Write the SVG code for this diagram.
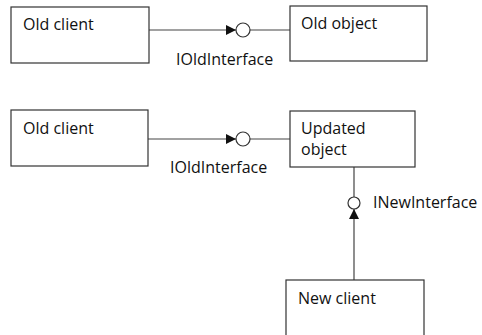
<svg xmlns="http://www.w3.org/2000/svg" width="482" height="335" viewBox="0 0 482 335">
<style>
.box{fill:#fff;stroke:#333;stroke-width:1.2}
.ln{fill:none;stroke:#444;stroke-width:1.2}
.lol{fill:#fff;stroke:#333;stroke-width:1.2}
text{font-family:"Open Sans","DejaVu Sans",sans-serif;font-size:16px;fill:#111}
</style>
<defs>
<marker id="ah" viewBox="0 0 10 10" refX="10" refY="5" markerWidth="10" markerHeight="10" markerUnits="userSpaceOnUse" orient="auto">
<path d="M0,0 L10,5 L0,10 Z" fill="#111"/>
</marker>
</defs>
<g id="connectors">
<line class="ln" x1="149" y1="30" x2="236" y2="30" marker-end="url(#ah)"/>
<line class="ln" x1="250" y1="30" x2="290" y2="30"/>
<circle class="lol" cx="243" cy="30" r="7"/>
<line class="ln" x1="148" y1="139" x2="236" y2="139" marker-end="url(#ah)"/>
<line class="ln" x1="250" y1="139" x2="290" y2="139"/>
<circle class="lol" cx="243" cy="139" r="7"/>
<line class="ln" x1="354" y1="167" x2="354" y2="197"/>
<line class="ln" x1="354" y1="280" x2="354" y2="209" marker-end="url(#ah)"/>
<circle class="lol" cx="354" cy="203" r="6"/>
<text x="176" y="65">IOldInterface</text>
<text x="170" y="173">IOldInterface</text>
<text x="373" y="208">INewInterface</text>
</g>
<g id="old-client-1">
<rect class="box" x="11" y="7" width="138" height="56"/>
<text x="23" y="30">Old client</text>
</g>
<g id="old-object">
<rect class="box" x="290" y="6" width="137" height="55"/>
<text x="301" y="29">Old object</text>
</g>
<g id="old-client-2">
<rect class="box" x="11" y="110" width="137" height="56"/>
<text x="23" y="134">Old client</text>
</g>
<g id="updated-object">
<rect class="box" x="290" y="111" width="125" height="56"/>
<text x="301" y="134">Updated</text>
<text x="301" y="155">object</text>
</g>
<g id="new-client">
<rect class="box" x="286" y="280" width="138" height="70"/>
<text x="298" y="304">New client</text>
</g>
</svg>
